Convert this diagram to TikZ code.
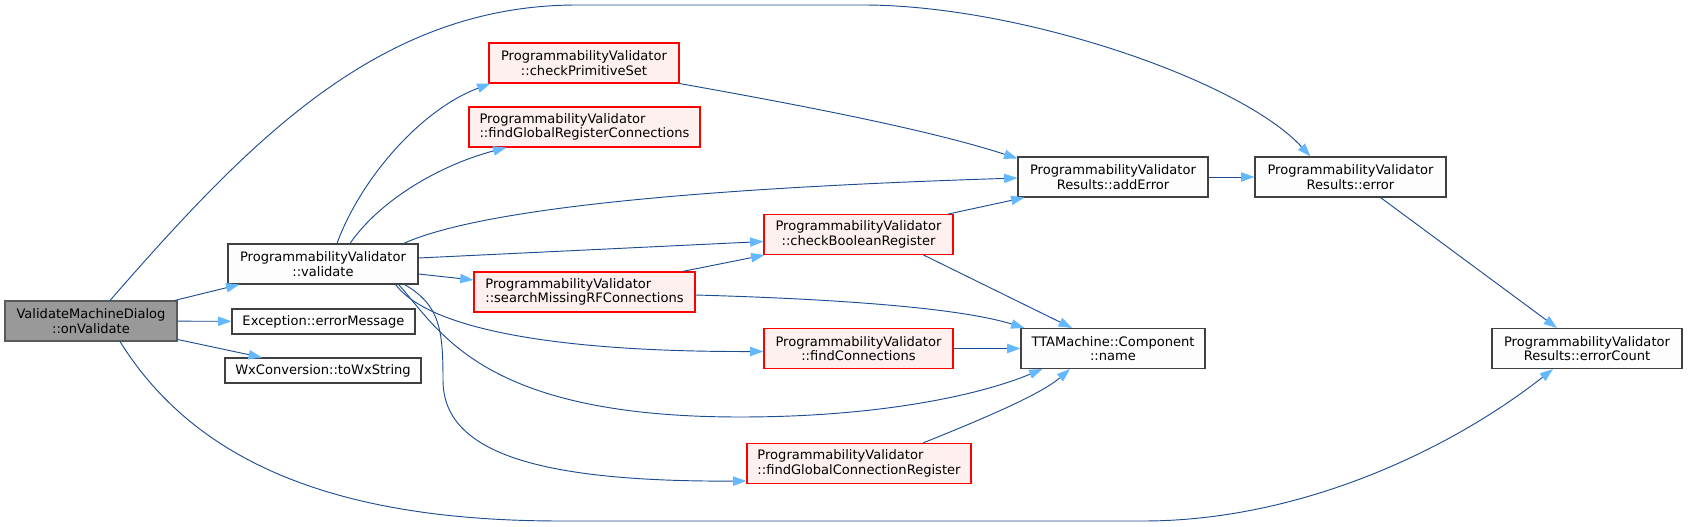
\documentclass[tikz,border=0pt]{standalone}
\usepackage{fontspec}
\setmainfont{DejaVu Sans}
\usepackage{tikz}
\usetikzlibrary{
    calc,
    arrows.meta
}
\definecolor{edgeblue}{RGB}{28,76,146}
\definecolor{tipblue}{RGB}{99,184,255}
\definecolor{boxfill}{RGB}{252,253,252}
\definecolor{redfill}{RGB}{255,240,240}
\definecolor{rootfill}{RGB}{153,153,153}
\definecolor{rootline}{RGB}{90,90,90}
\tikzset{
  fn/.style={draw=black!75, fill=boxfill, line width=0.8pt,
    minimum height=30pt, inner sep=2pt, align=center,
    font=\fontsize{9.8}{10.7}\selectfont},
  fnred/.style={fn, draw=red, fill=redfill},
  fnroot/.style={fn, draw=rootline, fill=rootfill},
  call/.style={edgeblue, line width=0.7pt,
    -{Triangle[length=10pt,width=7pt,color=tipblue]}}
}

\begin{document}
\begin{tikzpicture}[x=0.75pt,y=-0.75pt]
  \useasboundingbox (0,0) rectangle (1688,527);

  \node[fnroot, minimum width=129pt] (onval) at (91,321) {ValidateMachineDialog\\::onValidate};
  \node[fn, minimum width=142.5pt] (validate) at (323,264) {ProgrammabilityValidator\\::validate};
  \node[fn, minimum width=137.25pt, minimum height=18.75pt] (errmsg) at (323.5,321.5) {Exception::errorMessage};
  \node[fn, minimum width=147pt, minimum height=18.75pt] (towx) at (323,370.5) {WxConversion::toWxString};

  \node[fnred, minimum width=142.5pt] (checkprim) at (584,63) {ProgrammabilityValidator\\::checkPrimitiveSet};
  \node[fnred, minimum width=173.25pt, align=left] (findreg) at (584.5,127) {ProgrammabilityValidator\\::findGlobalRegisterConnections};
  \node[fnred, minimum width=165.75pt, align=left] (searchrf) at (584.5,292) {ProgrammabilityValidator\\::searchMissingRFConnections};
  \node[fnred, minimum width=141.75pt] (checkbool) at (858.5,234.5) {ProgrammabilityValidator\\::checkBooleanRegister};
  \node[fnred, minimum width=141.75pt] (findconn) at (858.5,348.5) {ProgrammabilityValidator\\::findConnections};
  \node[fnred, minimum width=168pt, align=left] (findconnreg) at (859,463.5) {ProgrammabilityValidator\\::findGlobalConnectionRegister};

  \node[fn, minimum width=142.5pt] (adderr) at (1113,177) {ProgrammabilityValidator\\Results::addError};
  \node[fn, minimum width=143.25pt] (err) at (1350.5,177) {ProgrammabilityValidator\\Results::error};
  \node[fn, minimum width=138pt] (compname) at (1113,348.5) {TTAMachine::Component\\::name};
  \node[fn, minimum width=142.5pt] (errcount) at (1587,348.5) {ProgrammabilityValidator\\Results::errorCount};

  % calls from the dialog
  \draw[call] (onval) -- (validate);
  \draw[call] (onval) -- (errmsg);
  \draw[call] (onval) -- (towx);
  \draw[call] ($(onval.north)+(19,0)$) .. controls (250,140) and (380,5) .. (577,5)
    -- (863,5) .. controls (1020,5) and (1240,80) .. ($(err.north)+(-40,0)$);
  \draw[call] ($(onval.south)+(29,0)$) .. controls (200,470) and (350,521) .. (561,521)
    -- (1143,521) .. controls (1300,521) and (1450,450) .. ($(errcount.south)+(-34,0)$);

  % calls from validate
  \draw[call] ($(validate.north)+(14,0)$) .. controls (360,180) and (420,110) .. ($(checkprim.south west)+(2,0)$);
  \draw[call] ($(validate.north)+(27,0)$) .. controls (380,200) and (440,165) .. ($(findreg.south west)+(38,0)$);
  \draw[call] ($(validate.north east)+(-15,0)$) .. controls (500,200) and (800,185) .. ($(adderr.west)+(0,1)$);
  \draw[call] ($(validate.east)+(0,-6)$) -- ($(checkbool.west)+(0,7)$);
  \draw[call] ($(validate.east)+(0,10)$) -- ($(searchrf.west)+(0,-12)$);
  \draw[call] ($(validate.south east)+(-23,0)$) .. controls (430,330) and (560,352) .. ($(findconn.west)+(0,3)$);
  \draw[call] ($(validate.south east)+(-20,0)$) .. controls (440,330) and (480,417) .. (740,417)
    .. controls (880,417) and (980,395) .. ($(compname.south west)+(22,0)$);
  \draw[call] ($(validate.south east)+(-14,0)$) .. controls (440,305) and (443,330) .. (443,380)
    .. controls (443,450) and (530,482) .. ($(findconnreg.south west)+(0,-3)$);

  % inner calls
  \draw[call] (checkprim.south east) .. controls (800,105) and (930,130) .. ($(adderr.north west)+(0,2)$);
  \draw[call] ($(checkbool.north east)+(-5,0)$) -- ($(adderr.south west)+(7,0)$);
  \draw[call] ($(checkbool.south east)+(-30,0)$) -- ($(compname.north)+(-41,0)$);
  \draw[call] ($(searchrf.north east)+(-13,0)$) -- ($(checkbool.south west)+(1,0)$);
  \draw[call] ($(searchrf.east)+(0,3)$) .. controls (800,298) and (950,305) .. ($(compname.north west)+(4,0)$);
  \draw[call] (findconn) -- (compname);
  \draw[call] ($(findconnreg.north)+(64,0)$) .. controls (980,420) and (1040,395) .. ($(compname.south)+(-43,0)$);
  \draw[call] (adderr) -- (err);
  \draw[call] ($(err.south)+(30,0)$) -- ($(errcount.north)+(-30,0)$);
\end{tikzpicture}
\end{document}
